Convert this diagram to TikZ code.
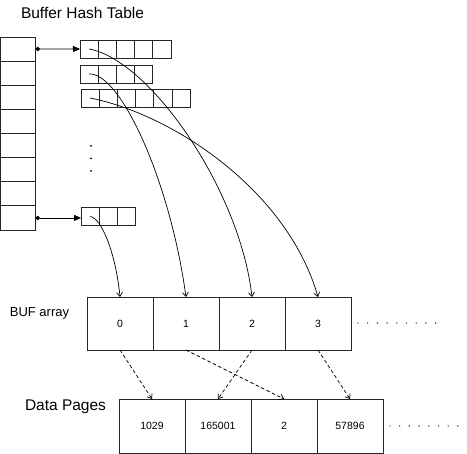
\documentclass[tikz,border=0pt]{standalone}
\usepackage{fontspec}
\setmainfont{Liberation Sans}
\usetikzlibrary{arrows.meta}
\begin{document}
\begin{tikzpicture}[x=1pt,y=-1pt,line width=0.9pt,
  box/.style={draw=black!85, inner sep=0pt, outer sep=0pt, anchor=north west},
  hcell/.style={box, minimum width=35pt, minimum height=24.125pt},
  kcell/.style={box, minimum width=18.2pt, minimum height=18pt},
  bcell/.style={box, minimum width=66pt, minimum height=53pt, font=\fontsize{10.5}{12}\selectfont},
  dcell/.style={box, minimum width=66pt, minimum height=54pt, font=\fontsize{10.5}{12}\selectfont},
  title/.style={font=\fontsize{15.5}{18}\selectfont},
  link/.style={-{Straight Barb[length=4pt,width=6pt,line width=0.7pt]}, line width=0.7pt},
  dlink/.style={-{Straight Barb[length=4pt,width=6pt,line width=0.7pt]}, line width=0.7pt, dash pattern=on 3.5pt off 2.5pt},
  hlink/.style={{Circle[length=4.5pt]}-{Triangle[length=7pt,width=6pt]}, line width=0.8pt},
  more/.style={line width=1.4pt, line cap=round, dash pattern=on 0pt off 9.7pt}
]
\useasboundingbox (0,0) rectangle (467,454);

% title
\node[title] (ttl) at (82.5,13) {Buffer Hash Table};

% hash table column
\foreach \i in {1,...,8} {
  \node[hcell] (h\i) at (0.5,{37+24.125*(\i-1)}) {};
}

% bucket chains
\foreach \j in {1,...,5} { \node[kcell] (ra\j) at ({80+18.2*(\j-1)},40) {}; }
\foreach \j in {1,...,4} { \node[kcell] (rb\j) at ({80+18.2*(\j-1)},65) {}; }
\foreach \j in {1,...,6} { \node[kcell] (rc\j) at ({81+18.2*(\j-1)},89) {}; }
\foreach \j in {1,...,3} { \node[kcell] (rd\j) at ({81+18.2*(\j-1)},207.5) {}; }

% vertical dots
\fill (91,146) circle (1pt);
\fill (91,158.5) circle (1pt);
\fill (91,171) circle (1pt);

% hash arrows
\draw[hlink] (h1.east) -- (ra1.west);
\draw[hlink] (h8.east) -- (h8.east -| rd1.west);

% BUF array
\node[font=\fontsize{13}{15}\selectfont] (buflbl) at (39.5,313) {BUF array};
\foreach \i in {0,...,3} {
  \node[bcell] (b\i) at ({87+66*\i},297) {};
  \node[font=\fontsize{10.5}{12}\selectfont] (bt\i) at (b\i.center) {\i};
}
\coordinate (bm1) at (358,323);
\coordinate (bm2) at (436,323);
\draw[more] (bm1) -- (bm2);

% Data pages
\node[title] (dplbl) at (65.5,407) {Data Pages};
\node[dcell] (d0) at (119,399) {1029};
\node[dcell] (d1) at (185,399) {165001};
\node[dcell] (d2) at (251,399) {2};
\node[dcell] (d3) at (317,399) {57896};
\coordinate (dm1) at (390,426);
\coordinate (dm2) at (467,426);
\draw[more] (dm1) -- (dm2);

% curves from chains to BUF
\draw[link] (ra1.center) .. controls (150,60) and (240,190) .. (b2.north);
\draw[link] (rb1.center) .. controls (120,72) and (170,180) .. (b1.north);
\draw[link] (rc1.center) .. controls (175,115) and (288,192) .. (b3.north);
\draw[link] (rd1.center) .. controls (102,218) and (116,255) .. (b0.north);

% dashed BUF -> data
\draw[dlink] (b0.south) -- (d0.north);
\draw[dlink] (b1.south) -- (d2.north);
\draw[dlink] (b2.south) -- (d1.north);
\draw[dlink] (b3.south) -- (d3.north);
\end{tikzpicture}
\end{document}
